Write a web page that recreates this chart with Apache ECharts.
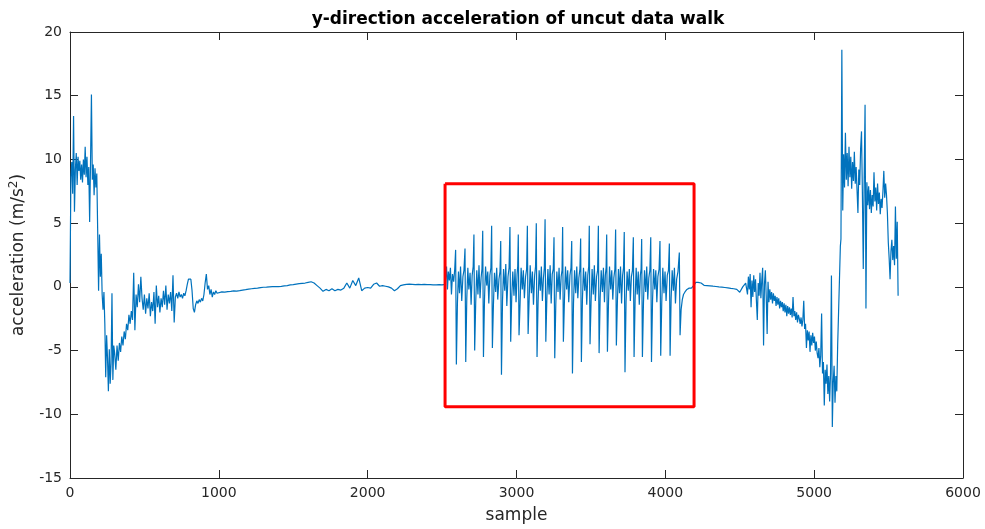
<!DOCTYPE html>
<html><head><meta charset="utf-8">
<script src="https://cdn.jsdelivr.net/npm/echarts@6/dist/echarts.min.js"></script>
<style>html,body{margin:0;padding:0;background:#fff}#c{width:985px;height:529px}</style>
</head><body><div id="c"></div>
<script>
// ---- data (sample index, acceleration m/s^2) ----
// phase 1: start (samples 0..294, every 6 samples)
const startStart = 0, startStep = 6;
const startValues = [
  0.3,8.6,9.8,7.3,13.4,5.9,9.2,10.5,8.0,10.2,
  9.1,9.9,8.4,9.6,8.2,10.0,8.8,11.0,8.6,10.2,
  8.0,9.4,5.1,9.8,15.1,8.4,9.6,7.2,9.3,7.8,
  8.9,4.4,-0.3,4.1,0.8,2.6,-0.6,-1.8,-0.4,-2.9,
  -7.1,-3.8,-5.6,-8.2,-4.9,-7.6,-6.0,-0.5,-7.3,-4.6
];
// phase 2: settling (samples 300..996, every 8 samples)
const settleStart = 300, settleStep = 8;
const settleValues = [
  -5.2,-6.5,-4.6,-5.8,-4.4,-5.1,-3.9,-4.6,-3.5,-4.1,
  -2.9,-3.4,-2.2,-2.9,-1.9,-2.6,1.1,-3.4,-0.6,-1.6,
  0.2,-1.2,0.8,-0.9,-1.8,-0.6,-2.1,-0.9,-1.7,-0.5,
  -2.3,-1.2,-1.9,-0.4,-2.9,0.1,-1.6,-0.7,-2.0,-0.9,
  -1.6,-0.3,-1.4,0.1,-1.8,-0.6,-1.3,-0.4,-1.9,0.9,
  -2.8,-0.8,-0.5,-0.9,-0.4,-0.8,-0.6,-0.9,-0.5,-0.7,
  -0.3,0.2,0.6,0.5,0.6,-0.3,-1.7,-2.0,-1.4,-1.1,
  -1.3,-1.0,-1.2,-0.9,-1.1,-0.6,0.3,1.0,-0.2,0.1,
  -0.6,-0.2,-0.8,-0.4,-0.6,-0.3,-0.5,-0.4
];
// phase 3: quiet (samples 1000..2520, every 20 samples)
const quietStart = 1000, quietStep = 20;
const quietValues = [
  -0.45,-0.4,-0.42,-0.38,-0.36,-0.32,-0.34,-0.3,-0.25,-0.22,
  -0.18,-0.15,-0.12,-0.1,-0.06,-0.03,-0.02,0.0,0.02,0.03,
  0.02,0.04,0.08,0.1,0.15,0.18,0.22,0.25,0.28,0.3,
  0.35,0.4,0.3,0.1,-0.1,-0.35,-0.2,-0.3,-0.15,-0.3,
  -0.2,-0.25,-0.1,0.3,-0.1,0.5,0.1,0.7,-0.3,-0.1,
  -0.05,-0.1,0.2,0.3,0.05,0.1,0.05,0.0,-0.1,-0.3,
  -0.15,0.1,0.15,0.2,0.22,0.2,0.18,0.2,0.18,0.2,
  0.17,0.18,0.16,0.15,0.17,0.15,0.2
];
// phase 4: walk (sample, value) pairs, one step per line
const walkPoints = [
  [2525,0.3],[2530,1.6],[2536,-0.2],[2542,1.2],[2549,0.5],[2556,1.5],[2563,-0.6],[2570,1.0],[2578,0.4],[2585,1.4],
  [2591,2.9],[2596,-6.1],[2603,-1.3],[2610,1.2],[2617,-0.5],[2624,1.6],[2632,-1.1],[2640,0.8],[2647,1.3],
  [2654,3.0],[2659,-5.9],[2666,-0.9],[2673,1.5],[2680,-0.2],[2688,1.1],[2695,-1.4],[2702,0.9],[2709,1.6],
  [2714,4.1],[2719,-5.0],[2726,-1.2],[2733,1.3],[2741,-0.6],[2748,1.7],[2755,-0.9],[2762,0.7],[2768,1.4],
  [2773,4.4],[2778,-5.5],[2785,-1.0],[2792,1.6],[2800,0.1],[2807,1.2],[2814,-1.3],[2821,0.9],[2828,1.5],
  [2833,4.8],[2838,-4.8],[2845,-1.4],[2852,1.1],[2860,-0.4],[2867,1.5],[2874,-1.0],[2882,0.6],[2889,1.2],
  [2894,3.6],[2899,-6.9],[2906,-1.1],[2913,1.4],[2921,-0.3],[2928,1.8],[2935,-1.5],[2943,0.8],[2950,1.5],
  [2956,4.7],[2961,-4.3],[2968,-0.8],[2975,1.2],[2983,-0.7],[2990,1.4],[2997,-1.2],[3004,1.0],[3008,1.6],
  [3012,4.1],[3017,-3.8],[3024,-1.3],[3031,1.5],[3039,-0.2],[3046,1.3],[3053,-0.9],[3061,0.8],[3068,1.4],
  [3073,4.8],[3078,-3.7],[3085,-1.0],[3092,1.7],[3100,-0.5],[3107,1.2],[3114,-1.4],[3122,0.9],[3128,1.6],
  [3133,5.0],[3138,-5.5],[3145,-1.2],[3152,1.3],[3160,-0.3],[3167,1.6],[3174,-1.1],[3181,0.7],[3187,1.5],
  [3192,5.3],[3197,-4.3],[3204,-0.9],[3211,1.4],[3219,-0.6],[3226,1.7],[3233,-1.3],[3240,1.0],[3247,1.4],
  [3252,3.9],[3257,-5.6],[3264,-1.4],[3271,1.2],[3279,-0.4],[3286,1.5],[3293,-1.0],[3300,0.8],[3306,1.3],
  [3310,4.7],[3315,-4.3],[3322,-1.1],[3329,1.6],[3337,-0.2],[3344,1.3],[3351,-1.2],[3359,0.9],[3366,1.5],
  [3371,3.6],[3376,-6.8],[3383,-1.3],[3390,1.3],[3398,-0.5],[3405,1.6],[3412,-0.9],[3419,0.7],[3426,1.4],
  [3431,3.8],[3436,-5.9],[3443,-1.0],[3450,1.5],[3458,-0.3],[3465,1.2],[3472,-1.4],[3479,0.9],[3485,1.6],
  [3489,4.8],[3494,-4.5],[3501,-1.2],[3508,1.4],[3516,-0.6],[3523,1.7],[3530,-1.1],[3538,0.8],[3545,1.3],
  [3550,4.8],[3555,-5.2],[3562,-0.9],[3569,1.3],[3577,-0.4],[3584,1.5],[3591,-1.2],[3597,0.9],[3602,1.5],
  [3606,4.1],[3611,-5.1],[3618,-1.3],[3625,1.6],[3633,-0.2],[3640,1.3],[3647,-1.0],[3654,0.7],[3661,1.4],
  [3666,4.5],[3671,-4.6],[3678,-1.1],[3685,1.4],[3692,-0.5],[3699,1.6],[3706,-1.3],[3713,0.9],[3719,1.5],
  [3724,4.3],[3729,-6.7],[3736,-1.2],[3743,1.2],[3751,-0.3],[3758,1.4],[3765,-1.1],[3772,0.8],[3779,1.3],
  [3785,3.9],[3790,-5.5],[3797,-1.0],[3804,1.5],[3811,-0.6],[3818,1.2],[3825,-1.4],[3832,0.9],[3837,1.4],
  [3841,3.75],[3846,-5.5],[3853,-1.3],[3860,1.3],[3868,-0.4],[3875,1.6],[3882,-1.0],[3889,0.7],[3896,1.3],
  [3902,3.9],[3907,-5.9],[3914,-1.1],[3921,1.4],[3929,-0.2],[3936,1.3],[3943,-1.2],[3950,0.8],[3958,1.4],
  [3964,3.6],[3969,-5.4],[3976,-1.2],[3983,1.5],[3991,-0.5],[3998,1.2],[4005,-1.1],[4013,0.9],[4021,1.3],
  [4027,3.4],[4032,-5.4],[4039,-0.9],[4046,1.3],[4054,-0.3],[4061,1.5],[4068,-1.3],[4076,0.6],[4085,1.2],
  [4094,2.7],[4099,-3.8],[4106,-1.8],[4114,-1.0],[4122,-0.6],[4132,-0.4],[4145,-0.2],[4160,-0.1],[4175,-0.1],[4190,0.1],[4205,0.35],[4215,0.4]
];
// phase 5: quiet after walk (samples 4220..4540, every 20 samples)
const pauseStart = 4220, pauseStep = 20;
const pauseValues = [
  0.35,0.3,0.12,0.1,0.08,0.05,0.03,0.0,-0.02,-0.05,
  -0.08,-0.12,-0.15,-0.2,-0.42,0.0,0.3
];
// phase 6: noisy descent (samples 4546..5176, every 6 samples)
const descentStart = 4546, descentStep = 6;
const descentValues = [
  0.4,-0.6,0.8,-0.2,1.0,-1.6,0.5,-0.8,0.9,-0.4,
  0.6,-1.1,-2.6,0.3,-0.7,1.1,-0.9,0.5,1.5,-4.6,
  0.2,1.3,-0.8,-3.7,0.4,-1.2,-0.2,-1.0,-0.4,-1.3,
  -0.5,-1.1,-0.7,-1.5,-0.8,-1.4,-0.9,-1.7,-1.1,-1.6,
  -1.2,-1.9,-1.3,-2.0,-1.4,-2.3,-1.5,-2.1,-1.6,-2.2,
  -1.7,-2.4,-0.8,-2.3,-1.9,-2.6,-2.0,-2.8,-2.2,-2.5,
  -2.9,-2.4,-3.1,-2.6,-1.1,-3.3,-2.9,-4.8,-3.4,-4.2,
  -3.5,-5.1,-3.8,-4.6,-3.6,-4.4,-3.9,-5.0,-4.3,-5.2,
  -5.6,-4.8,-6.3,-5.4,-2.1,-6.8,-5.9,-9.3,-6.5,-7.6,
  -6.1,-8.4,-7.0,-9.0,-6.8,0.9,-11.0,-7.5,-6.2,-9.1,
  -7.0,-8.2,-4.5,-2.0,0.6,3.2
];
// phase 7: end (samples 5180..5564, every 6 samples)
const endStart = 5180, endStep = 6;
const endValues = [
  3.75,18.6,6.0,10.4,7.8,12.1,8.4,10.5,7.9,11.0,
  8.6,10.2,7.7,9.8,8.3,10.6,8.1,9.4,7.6,5.8,
  9.2,8.0,10.8,12.2,7.4,1.4,8.6,14.3,-1.7,8.2,
  6.4,7.9,6.1,7.6,5.8,7.2,6.3,9.0,6.7,7.8,
  6.0,8.1,6.5,7.4,5.7,6.9,6.2,7.5,9.1,7.0,
  8.1,7.2,5.8,3.5,2.2,0.6,2.8,3.7,2.1,3.2,
  1.7,6.3,2.2,5.1,-0.7
];
// red box marking the walk
const boxSamples = [2520, 4193, 4193, 2520, 2520];
const boxValues = [8.1, 8.1, -9.4, -9.4, 8.1];

// ---- build ----
function expand(start, step, vals) { return vals.map((v, i) => [start + i * step, v]); }
const signal = [].concat(
  expand(startStart, startStep, startValues),
  expand(settleStart, settleStep, settleValues),
  expand(quietStart, quietStep, quietValues),
  walkPoints,
  expand(pauseStart, pauseStep, pauseValues),
  expand(descentStart, descentStep, descentValues),
  expand(endStart, endStep, endValues)
);
const box = boxSamples.map((s, i) => [s, boxValues[i]]);

const FONT = '"DejaVu Sans", sans-serif';
const AX = '#262626';
const chart = echarts.init(document.getElementById('c'), null, { renderer: 'canvas' });
const axisCommon = {
  axisLine: { show: true, onZero: false, lineStyle: { color: AX, width: 1 } },
  axisTick: { show: true, inside: true, length: 8, lineStyle: { color: AX, width: 1 } },
  splitLine: { show: false }
};
const plain = v => String(v);
chart.setOption({
  animation: false,
  backgroundColor: '#fff',
  title: {
    text: 'y-direction acceleration of uncut data walk',
    left: 513, top: 6, textAlign: 'center',
    textStyle: { fontFamily: FONT, fontWeight: 'bold', fontSize: 17, color: '#000' }
  },
  grid: { left: 70, right: 22, top: 32, bottom: 49, containLabel: false },
  xAxis: [
    Object.assign({
      type: 'value', min: 0, max: 6000, interval: 1000, position: 'bottom',
      axisLabel: { color: AX, fontSize: 14, fontFamily: FONT, margin: 8, formatter: plain },
      name: 'sample', nameLocation: 'middle', nameGap: 29,
      nameTextStyle: { fontFamily: FONT, fontSize: 17, color: AX }
    }, axisCommon),
    Object.assign({
      type: 'value', min: 0, max: 6000, interval: 1000, position: 'top',
      axisLabel: { show: false }
    }, axisCommon)
  ],
  yAxis: [
    Object.assign({
      type: 'value', min: -15, max: 20, interval: 5, position: 'left',
      axisLabel: { color: AX, fontSize: 14, fontFamily: FONT, margin: 8, formatter: plain },
      name: '{n|acceleration (m/s}{s|2}{n|)}', nameLocation: 'middle', nameGap: 40,
      nameTextStyle: {
        color: AX,
        rich: {
          n: { fontFamily: FONT, fontSize: 17, color: AX, lineHeight: 22 },
          s: { fontFamily: FONT, fontSize: 12, color: AX, verticalAlign: 'top', lineHeight: 22 }
        }
      }
    }, axisCommon),
    Object.assign({
      type: 'value', min: -15, max: 20, interval: 5, position: 'right',
      axisLabel: { show: false }
    }, axisCommon)
  ],
  series: [
    {
      type: 'line', data: signal, xAxisIndex: 0, yAxisIndex: 0,
      showSymbol: false, symbol: 'none', sampling: null,
      lineStyle: { color: '#0072BD', width: 1.2 }, z: 2
    },
    {
      type: 'line', data: box, xAxisIndex: 0, yAxisIndex: 0,
      showSymbol: false, symbol: 'none',
      lineStyle: { color: '#FF0000', width: 3 }, z: 3
    }
  ]
});
</script>
</body></html>
